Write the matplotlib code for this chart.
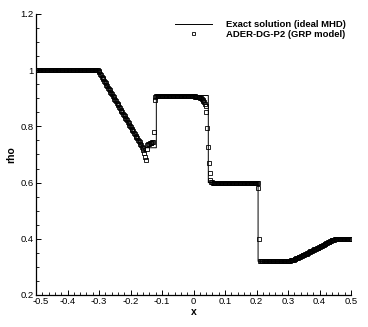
import matplotlib
matplotlib.use('Agg')
import matplotlib.pyplot as plt
import matplotlib.transforms as mtransforms
import numpy as np
from matplotlib.ticker import MultipleLocator

plt.rcParams['font.family'] = ['Liberation Sans', 'DejaVu Sans']

# exact solution (ideal MHD), breakpoints
x_exact = [-0.5, -0.303, -0.153, -0.153, -0.118, -0.118, 0.047, 0.047, 0.205, 0.205,
           0.296, 0.317, 0.340, 0.360, 0.380, 0.400, 0.420, 0.435, 0.448, 0.455, 0.5]
rho_exact = [1.0, 1.0, 0.708, 0.724, 0.724, 0.910, 0.910, 0.600, 0.600, 0.320,
             0.320, 0.325, 0.337, 0.348, 0.360, 0.371, 0.383, 0.391, 0.397, 0.400, 0.400]

# ADER-DG-P2 values on the cell centres (400 cells, dx = 0.0025)
x_cells = np.arange(-0.49875, 0.5, 0.0025)

rho_left = [1.0] * 78 + [0.999, 0.997, 0.992]
rho_fan = [0.987, 0.982, 0.977, 0.972, 0.967, 0.962, 0.958, 0.953, 0.948, 0.943,
           0.938, 0.933, 0.928, 0.923, 0.919, 0.914, 0.909, 0.904, 0.899, 0.894,
           0.889, 0.884, 0.880, 0.875, 0.870, 0.865, 0.860, 0.855, 0.850, 0.845,
           0.841, 0.836, 0.831, 0.826, 0.821, 0.816, 0.811, 0.806, 0.802, 0.797,
           0.792, 0.787, 0.782, 0.777, 0.772, 0.767, 0.763, 0.758, 0.753, 0.748,
           0.743, 0.738, 0.733, 0.728, 0.724]
rho_compound = [0.716, 0.705, 0.690, 0.681, 0.718, 0.733, 0.736, 0.738, 0.740, 0.741,
                0.742, 0.744, 0.746, 0.781, 0.894, 0.905]
rho_mid = [0.908] * 34 + [0.907] * 16
rho_contact = [0.906, 0.906, 0.905, 0.905, 0.904, 0.903, 0.902, 0.900, 0.898, 0.895,
               0.890, 0.886, 0.880, 0.874, 0.852, 0.795, 0.728, 0.668, 0.633, 0.610,
               0.603, 0.601]
rho_shock = [0.600] * 58 + [0.582, 0.400] + [0.320] * 34
rho_fan2 = [0.320, 0.321, 0.321, 0.322, 0.322, 0.323, 0.323, 0.324, 0.325, 0.326,
            0.327, 0.328, 0.330, 0.331, 0.333, 0.334, 0.335, 0.336, 0.338, 0.339,
            0.341, 0.342, 0.344, 0.345, 0.346, 0.347, 0.349, 0.350, 0.352, 0.353,
            0.355, 0.356, 0.358, 0.359, 0.361, 0.362, 0.364, 0.365, 0.367, 0.368,
            0.369, 0.370, 0.372, 0.373, 0.375, 0.376, 0.378, 0.379, 0.381, 0.382,
            0.384, 0.385, 0.387, 0.388, 0.390, 0.391, 0.393, 0.394, 0.395, 0.396,
            0.397, 0.398, 0.399, 0.399]
rho_right = [0.400] * 18

rho_cells = rho_left + rho_fan + rho_compound + rho_mid + rho_contact + rho_shock + rho_fan2 + rho_right


def x_fmt(v, p):
    if abs(v + 0.5) < 1e-9:
        return ''   # drawn by hand below, nudged right
    if abs(v) < 1e-9:
        return '0'
    return '%g' % round(v, 2)


fig = plt.figure(figsize=(3.68, 3.27), dpi=100)
ax = fig.add_axes([36 / 368, 32 / 327, 315 / 368, 281 / 327])

ax.plot(x_exact, rho_exact, color='k', lw=0.7, label='Exact solution (ideal MHD)')
ax.plot(x_cells, rho_cells, ls='none', marker='s', ms=2.4, mfc='none', mec='k', mew=0.6,
        label='ADER-DG-P2 (GRP model)')

ax.set_xlim(-0.5, 0.5)
ax.set_ylim(0.2, 1.2)
ax.xaxis.set_major_locator(MultipleLocator(0.1))
ax.xaxis.set_minor_locator(MultipleLocator(0.02))
ax.yaxis.set_major_locator(MultipleLocator(0.2))
ax.yaxis.set_minor_locator(MultipleLocator(0.05))
ax.xaxis.set_major_formatter(plt.FuncFormatter(x_fmt))
ax.yaxis.set_major_formatter(plt.FuncFormatter(lambda v, p: '%g' % round(v, 2)))

ax.spines['top'].set_visible(False)
ax.spines['right'].set_visible(False)
for s in ['left', 'bottom']:
    ax.spines[s].set_linewidth(0.9)
ax.tick_params(which='major', direction='in', length=3.4, width=0.7, labelsize=6.8, pad=1.5)
ax.tick_params(which='minor', direction='in', length=2, width=0.6)

ax.text(-0.5, 0, '-0.5', fontsize=6.8, ha='center', va='top',
        transform=ax.get_xaxis_transform() + mtransforms.ScaledTranslation(5 / 100, -2.2 / 100, fig.dpi_scale_trans))

ax.set_xlabel('x', fontsize=7.5, fontweight='bold', labelpad=1)
ax.set_ylabel('rho', fontsize=7.5, fontweight='bold', labelpad=3)

ax.legend(loc='upper left', bbox_to_anchor=(175 / 368, 1 - 20 / 327), bbox_transform=fig.transFigure,
          frameon=False, prop={'weight': 'bold', 'size': 6.8}, handlelength=3.9, handletextpad=1.5,
          labelspacing=0.08, borderpad=0, borderaxespad=0, markerscale=0.9)

fig.savefig('out.png', dpi=100)
